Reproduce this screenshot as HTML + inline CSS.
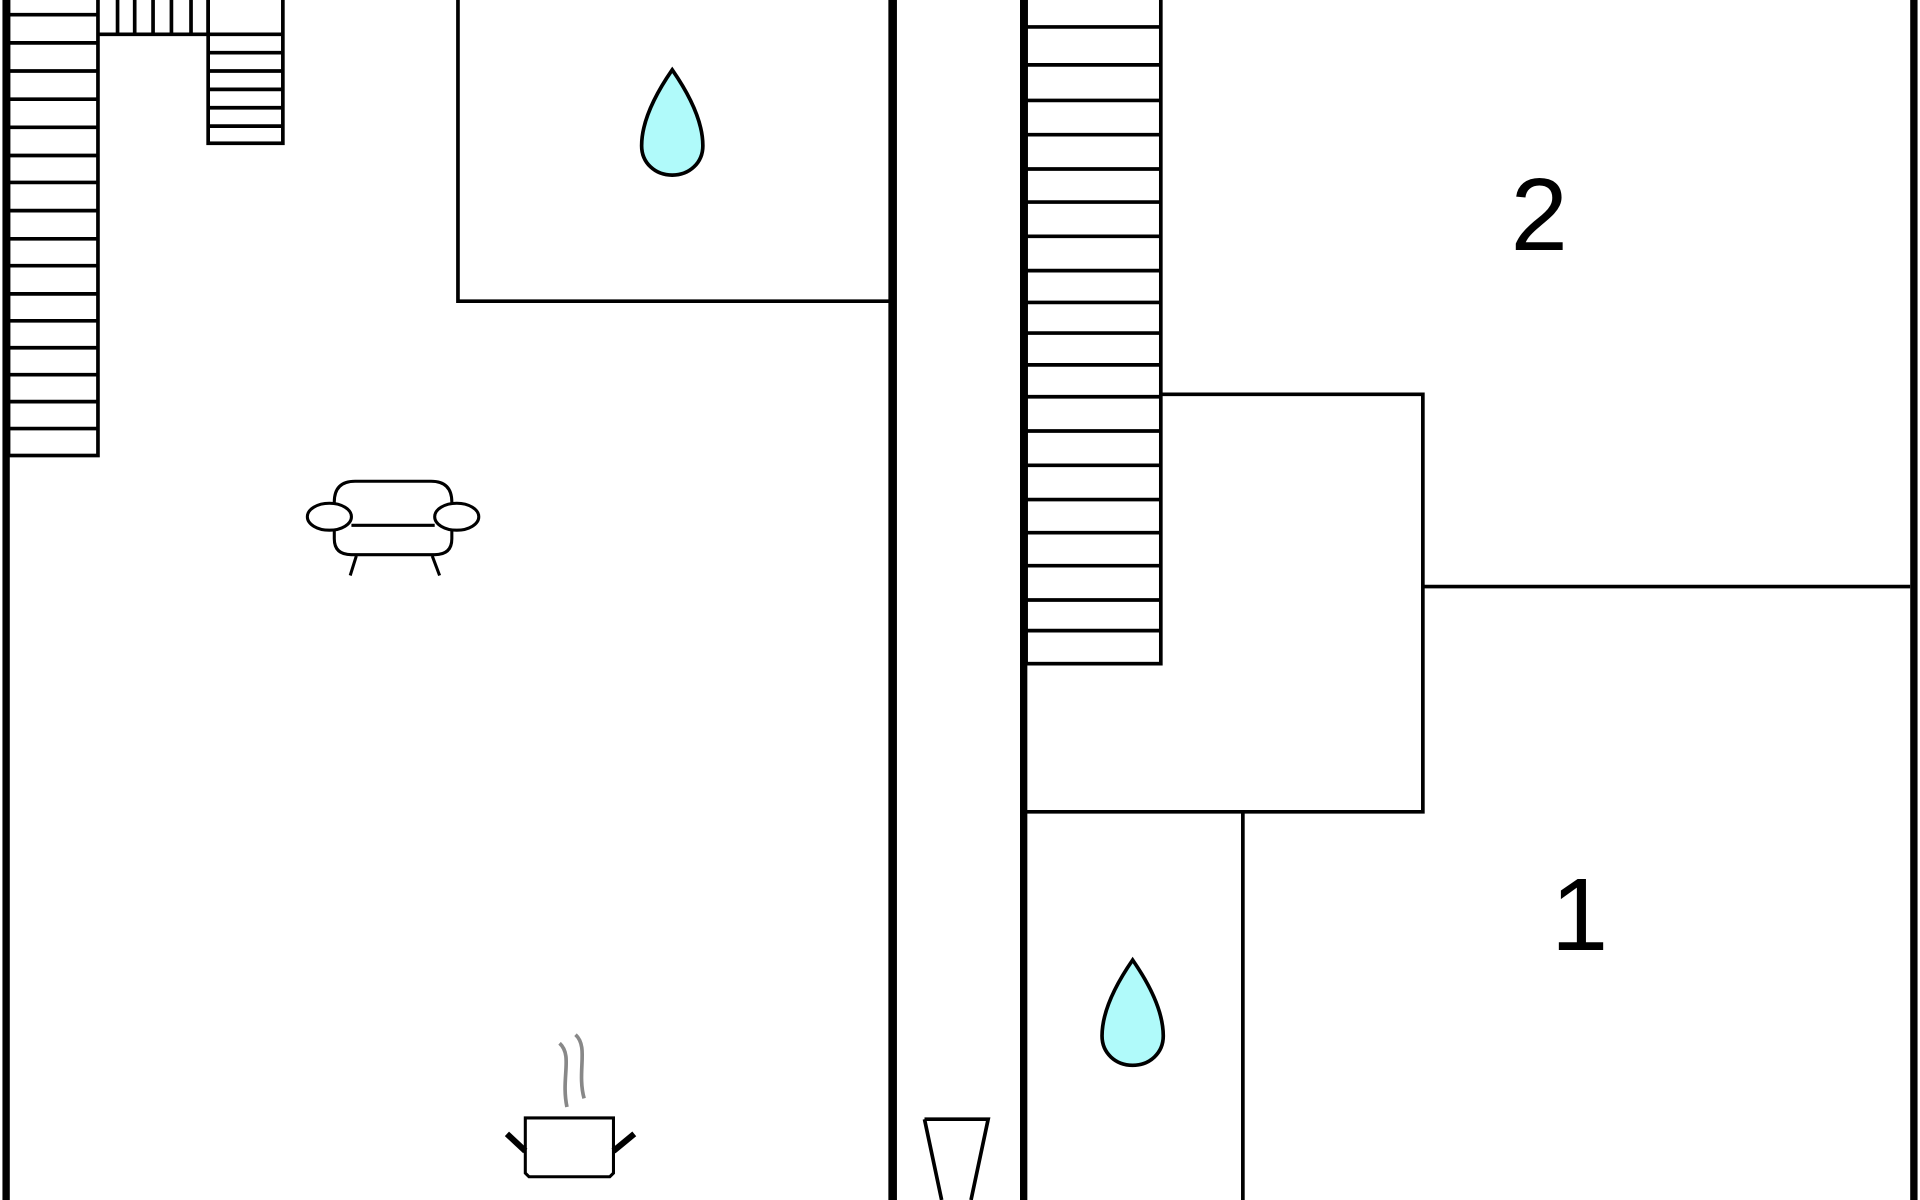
<!DOCTYPE html>
<html><head><style>html,body{margin:0;padding:0;background:#fff;overflow:hidden}svg{display:block}</style></head>
<body>
<svg width="1920" height="1200" viewBox="0 0 1568 980" preserveAspectRatio="none" xmlns="http://www.w3.org/2000/svg">
<rect width="1568" height="980" fill="#fff"/>
<g fill="none" stroke="#000" stroke-width="3">
<!-- thick walls -->
<line x1="5" y1="0" x2="5" y2="980" stroke-width="6"/>
<line x1="729" y1="0" x2="729" y2="980" stroke-width="7"/>
<line x1="836" y1="0" x2="836" y2="980" stroke-width="6"/>
<line x1="1563" y1="0" x2="1563" y2="980" stroke-width="6"/>
<!-- left stairs -->
<rect x="7" y="-5" width="73" height="377"/>
<path d="M7 12H80M7 35H80M7 58H80M7 81H80M7 104H80M7 127H80M7 149H80M7 172H80M7 195H80M7 217H80M7 240H80M7 262H80M7 284H80M7 306H80M7 328H80M7 350H80"/>
<!-- top stairs -->
<path d="M80 28H170M96 0V28M110 0V28M125 0V28M140 0V28M156 0V28M170 0V28"/>
<rect x="170" y="-5" width="61" height="122"/>
<path d="M170 28H231M170 43H231M170 58H231M170 73H231M170 88H231M170 103H231"/>
<!-- bathroom -->
<path d="M374 0V246H727"/>
<!-- right stairs -->
<rect x="838" y="-5" width="110" height="547"/>
<path d="M838 22H948M838 53H948M838 82H948M838 110H948M838 138H948M838 165H948M838 193H948M838 221H948M838 247H948M838 272H948M838 298H948M838 324H948M838 352H948M838 380H948M838 408H948M838 435H948M838 462H948M838 490H948M838 515H948"/>
<path d="M948 322H1162V663H838M1162 479H1560M1015 663V980"/>
<!-- triangle -->
<path d="M755 914H807L793 980M755 914L769 980"/>
</g>
<!-- drops -->
<g fill="#b0fafa" stroke="#000" stroke-width="3">
<path d="M549 57C540 70 524 95 524 119C524 133 535 143 549 143C563 143 574 133 574 119C574 95 558 70 549 57Z"/>
<path d="M925 784C916 797 900 822 900 846C900 860 911 870 925 870C939 870 950 860 950 846C950 822 934 797 925 784Z"/>
</g>
<!-- sofa -->
<g fill="#fff" stroke="#000" stroke-width="2.5">
<path d="M273 410Q273 393 290 393H352Q369 393 369 410V440Q369 453 355 453H287Q273 453 273 440Z"/>
<line x1="287" y1="429" x2="355" y2="429"/>
<ellipse cx="269" cy="422" rx="18" ry="11"/>
<ellipse cx="373" cy="422" rx="18" ry="11"/>
<line x1="291" y1="454" x2="286" y2="470"/>
<line x1="353" y1="454" x2="359" y2="470"/>
</g>
<!-- pot -->
<g fill="none">
<path d="M457 852C468 862 458 880 463 904M470 845C481 855 471 875 477 897" stroke="#888" stroke-width="3"/>
<path d="M429 913H501V958L498 961H432L429 958Z" fill="#fff" stroke="#000" stroke-width="2.5"/>
<path d="M429 940L414 926M501 940L518 926" stroke="#000" stroke-width="5"/>
</g>
<g font-family="Liberation Sans, sans-serif" font-size="84" fill="#000" text-anchor="middle">
<text x="1257" y="204">2</text>
<text x="1290" y="776">1</text>
</g>
</svg>
</body></html>
